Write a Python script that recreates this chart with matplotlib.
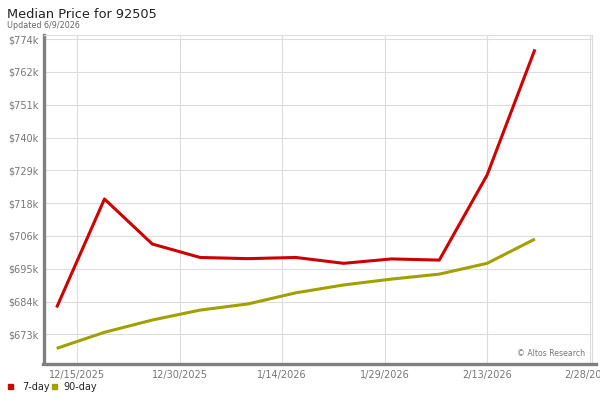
import matplotlib

matplotlib.use("Agg")
import matplotlib.pyplot as plt
from matplotlib.lines import Line2D
import numpy as np
import pandas as pd

# weekly data, values in $k
dates = pd.to_datetime([
    "2025-12-12", "2025-12-19", "2025-12-26", "2026-01-02", "2026-01-09",
    "2026-01-16", "2026-01-23", "2026-01-30", "2026-02-06", "2026-02-13",
    "2026-02-20",
])
price_7day = [682.2, 719.3, 703.9, 699.3, 698.9, 699.3, 697.3, 698.8, 698.4, 727.5, 770.5]
price_90day = [668.2, 673.7, 677.9, 681.3, 683.4, 687.2, 689.9, 691.9, 693.6, 697.3, 705.6]

y_labels = ["$673k", "$684k", "$695k", "$706k", "$718k",
            "$729k", "$740k", "$751k", "$762k", "$774k"]
x_ticks = pd.to_datetime(["2025-12-15", "2025-12-30", "2026-01-14",
                          "2026-01-29", "2026-02-13", "2026-02-28"])
x_labels = ["12/15/2025", "12/30/2025", "1/14/2026", "1/29/2026", "2/13/2026", "2/28/2026"]

RED = "#cc0000"
OLIVE = "#a0a000"
GRID = "#dddddd"
TXT = "#777777"

fig = plt.figure(figsize=(6, 4), dpi=100)
ax = fig.add_axes([44 / 600, 1 - 363 / 400, (592 - 44) / 600, (363 - 35) / 400])

ax.plot(dates, price_7day, color=RED, linewidth=2.2, solid_capstyle="butt", zorder=3)
ax.plot(dates, price_90day, color=OLIVE, linewidth=2.2, solid_capstyle="butt", zorder=3)

y_ticks = np.linspace(673, 774, len(y_labels))
ax.set_yticks(y_ticks)
ax.set_yticklabels(y_labels)
ax.set_ylim(663.2, 775.4)

ax.set_xticks(x_ticks)
ax.set_xticklabels(x_labels)
ax.set_xlim(x_ticks[0] - pd.Timedelta(days=4.85), x_ticks[-1] + pd.Timedelta(days=0.35))

ax.grid(True, color=GRID, linewidth=0.8, zorder=0)
ax.tick_params(length=0, labelsize=7, labelcolor=TXT)
ax.tick_params(axis="y", pad=4)
ax.tick_params(axis="x", pad=5)

ax.spines["left"].set_color("#808080")
ax.spines["left"].set_linewidth(2.4)
ax.spines["bottom"].set_visible(False)
for side in ["top", "right"]:
    ax.spines[side].set_color(GRID)
    ax.spines[side].set_linewidth(0.8)

# thick bottom bar running a little past the right border
fig.add_artist(Line2D([43 / 600, 596 / 600], [1 - 364.3 / 400, 1 - 364.3 / 400],
                      color="#808080", linewidth=2.4, transform=fig.transFigure))

ax.text(0.988, (363 - 354) / 328, "\u00a9 Altos Research", transform=ax.transAxes,
        ha="right", va="center", fontsize=5.6, color="#777777")

fig.text(7 / 600, 1 - 14 / 400, "Median Price for 92505", fontsize=9.3,
         color="#222222", va="center", ha="left")
fig.text(7 / 600, 1 - 25 / 400, "Updated 6/9/2026", fontsize=5.8,
         color="#666666", va="center", ha="left")

# legend at bottom
fig.patches.append(plt.Rectangle((8 / 600, 1 - 389 / 400), 5 / 600, 5 / 400,
                                 transform=fig.transFigure, color=RED))
fig.text(22 / 600, 1 - 387 / 400, "7-day", fontsize=7, color="#222222", va="center")
fig.patches.append(plt.Rectangle((52 / 600, 1 - 389 / 400), 5 / 600, 5 / 400,
                                 transform=fig.transFigure, color=OLIVE))
fig.text(63 / 600, 1 - 387 / 400, "90-day", fontsize=7, color="#222222", va="center")

fig.savefig("out.png", dpi=100)
